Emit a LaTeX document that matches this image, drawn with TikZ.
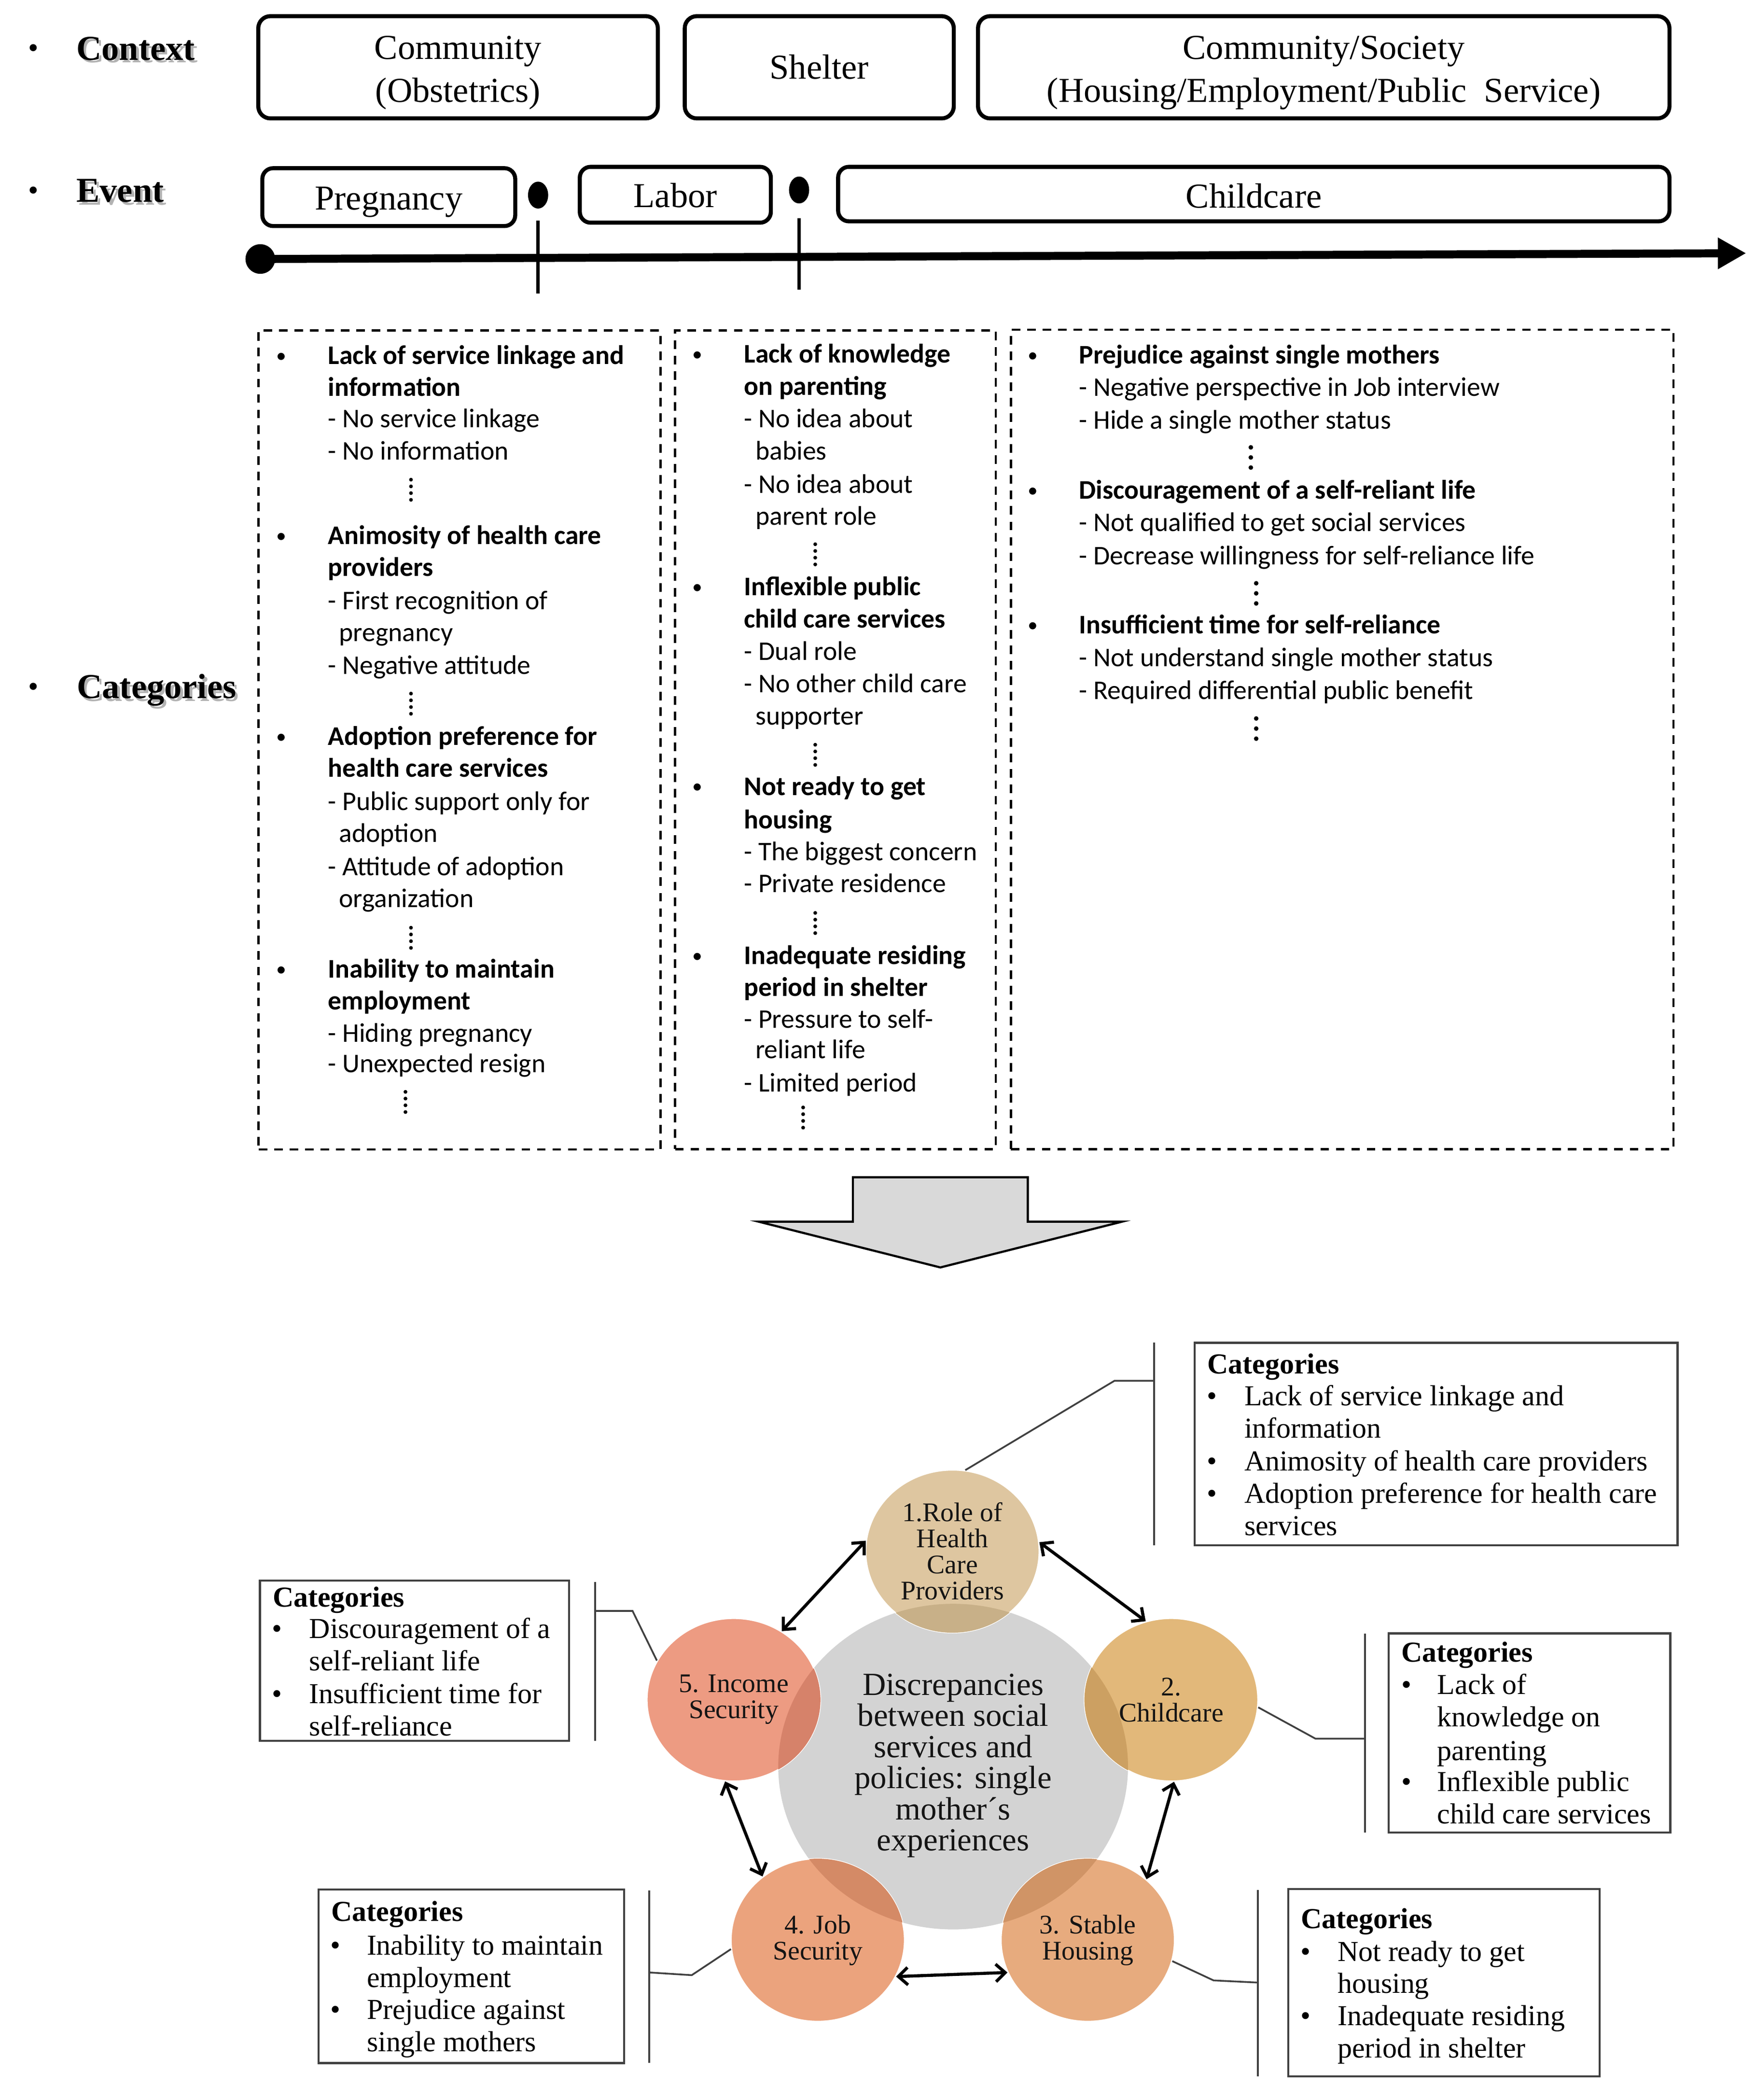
\documentclass[tikz,border=0pt]{standalone}
\usepackage{fontspec}
\setmainfont{Liberation Serif}
\newfontfamily\calib{Carlito}
\usetikzlibrary{arrows.meta,shapes.geometric}
\definecolor{gc}{HTML}{D3D3D3}
\definecolor{cA}{HTML}{DEC6A0}\definecolor{oA}{HTML}{C8B088}
\definecolor{cB}{HTML}{E2B87A}\definecolor{oB}{HTML}{CCA062}
\definecolor{cC}{HTML}{E7AB7E}\definecolor{oC}{HTML}{D09466}
\definecolor{cD}{HTML}{EBA37D}\definecolor{oD}{HTML}{D48A66}
\definecolor{cE}{HTML}{ED9B82}\definecolor{oE}{HTML}{D6826A}
\definecolor{arrgray}{HTML}{D9D9D9}
\definecolor{linegray}{HTML}{404040}
\newcommand\tline[5]{\node[#4] (#1) at (#2,#3) {#5};}
\newcommand\fourdots[2]{\foreach \k in {-7.5,-2.5,2.5,7.5}{\fill (#1,#2+\k) circle (1.4pt);}}
\newcommand\threedots[2]{\foreach \k in {-7.5,0,7.5}{\fill (#1,#2+\k) circle (1.7pt);}}
\tikzset{
  ctxbox/.style={draw, line width=3pt, rounded corners=9pt, inner sep=0pt, minimum height=76pt},
  evbox/.style={draw, line width=3pt, rounded corners=8pt, inner sep=0pt},
  big/.style={font=\fontsize{26}{32}\selectfont, inner sep=0pt, anchor=base},
  lab/.style={font=\fontsize{26}{30}\selectfont\bfseries, inner sep=0pt, anchor=base west},
  labsh/.style={lab, text=black!30},
  labbul/.style={font=\fontsize{22}{26}\selectfont, inner sep=0pt, anchor=base},
  dbox/.style={draw, dash pattern=on 6.4pt off 5.1pt, line width=1.7pt, inner sep=0pt},
  ct/.style={font=\calib\fontsize{20}{24}\selectfont, inner sep=0pt, anchor=base west, yshift=-5.5pt},
  cb/.style={ct, font=\calib\fontsize{20}{24}\selectfont\bfseries},
  cbul/.style={font=\calib\fontsize{15}{18}\selectfont, inner sep=0pt, anchor=base, yshift=-4pt},
  cat/.style={font=\fontsize{21.5}{24}\selectfont, inner sep=0pt, anchor=base west, yshift=-6.5pt},
  catb/.style={cat, font=\fontsize{21.5}{24}\selectfont\bfseries},
  catbul/.style={cat, anchor=base},
  catbox/.style={draw=linegray, line width=1.5pt, inner sep=0pt},
  circ/.style={ellipse, minimum width=129pt, minimum height=121pt, inner sep=0pt, draw=white, line width=1pt},
  circtext/.style={font=\fontsize{20}{19.4}\selectfont, align=center, inner sep=0pt, text=black!92},
  biarrow/.style={line width=2.3pt, {Straight Barb[length=7pt,width=13pt]}-{Straight Barb[length=7pt,width=13pt]}},
  conn/.style={draw=linegray, line width=1.3pt},
}
\begin{document}
\begin{tikzpicture}[x=1pt,y=-1pt]
\useasboundingbox (0,0) rectangle (1305,1560.8);
\fill[white] (0,0) rectangle (1305,1560.8);

% ---------- left labels ----------
\node[labsh] (ctxs) at (58.6,46.6) {Context};
\node[lab] (ctx) at (56.6,44.6) {Context};
\node[labbul] (ctxb) at (25,43) {•};
\node[labsh] (evs) at (58.6,152.2) {Event};
\node[lab] (ev) at (56.6,150.2) {Event};
\node[labbul] (evb) at (25,148.6) {•};
\node[labsh] (cats) at (59,521) {Categories};
\node[lab] (cat) at (57,519) {Categories};
\node[labbul] (catbull) at (25,517.4) {•};

% ---------- context boxes ----------
\node[ctxbox, minimum width=297pt] (k1) at (340.5,50) {};
\node[ctxbox, minimum width=200pt] (k2) at (609,50) {};
\node[ctxbox, minimum width=514pt] (k3) at (984,50) {};
\node[big] (k1a) at (340.5,44) {Community};
\node[big] (k1b) at (340.5,76) {(Obstetrics)};
\node[big] (k2a) at (609,58.8) {Shelter};
\node[big] (k3a) at (984,44) {Community/Society};
\node[big] (k3b) at (984,76) {(Housing/Employment/Public\ \ Service)};

% ---------- event boxes ----------
\node[evbox, minimum width=188pt, minimum height=43pt] (e1) at (289,146.5) {};
\node[evbox, minimum width=142pt, minimum height=41.5pt] (e2) at (502,144.75) {};
\node[evbox, minimum width=618pt, minimum height=40.5pt] (e3) at (932,144.25) {};
\node[big] (e1t) at (289,156) {Pregnancy};
\node[big] (e2t) at (502,154) {Labor};
\node[big] (e3t) at (932,154.4) {Childcare};

% ---------- timeline ----------
\node[ellipse, fill=black, minimum width=15pt, minimum height=20pt, inner sep=0pt] (d1) at (400,145) {};
\node[ellipse, fill=black, minimum width=15pt, minimum height=20pt, inner sep=0pt] (d2) at (594,141.2) {};
\coordinate (t1b) at (400,218);
\coordinate (t2b) at (594,215.4);
\coordinate (t1a) at (400,164);
\coordinate (t2a) at (594,162);
\draw[line width=2.6pt] (t1a) -- (t1b);
\draw[line width=2.6pt] (t2a) -- (t2b);
\node[circle, fill=black, minimum size=22pt, inner sep=0pt] (ts) at (193.5,192.5) {};
\coordinate (te) at (1298,188.2);
\draw[line width=6pt, -{Triangle[length=21pt,width=22pt]}] (ts.center) -- (te);

% ---------- dashed category columns ----------
\node[dbox, minimum width=298.7pt, minimum height=608.7pt] (colA) at (341.55,549.95) {};
\node[dbox, minimum width=238.4pt, minimum height=608.4pt] (colB) at (621,549.8) {};
\node[dbox, minimum width=492.5pt, minimum height=608.9pt] (colC) at (997.75,549.55) {};

% column A
\foreach \yy in {265.3,399.2,548.4,721.4}{\node[cbul] at (209.3,\yy) {•};}
\tline{a1}{243.7}{265.3}{cb}{Lack of service linkage and}
\tline{a2}{243.7}{288.9}{cb}{information}
\tline{a3}{243.7}{312.3}{ct}{- No service linkage}
\tline{a4}{243.7}{336.2}{ct}{- No information}
\fourdots{305.5}{364}
\tline{a5}{243.7}{399.2}{cb}{Animosity of health care}
\tline{a6}{243.7}{422.7}{cb}{providers}
\tline{a7}{243.7}{447.4}{ct}{- First recognition of}
\tline{a8}{251.9}{471.3}{ct}{pregnancy}
\tline{a9}{243.7}{495.6}{ct}{- Negative attitude}
\fourdots{305.5}{523}
\tline{a10}{243.7}{548.4}{cb}{Adoption preference for}
\tline{a11}{243.7}{571.9}{cb}{health care services}
\tline{a12}{243.7}{596.6}{ct}{- Public support only for}
\tline{a13}{251.9}{620.5}{ct}{adoption}
\tline{a14}{243.7}{645.2}{ct}{- Attitude of adoption}
\tline{a15}{251.9}{668.7}{ct}{organization}
\fourdots{305.5}{697}
\tline{a16}{243.7}{721.4}{cb}{Inability to maintain}
\tline{a17}{243.7}{744.9}{cb}{employment}
\tline{a18}{243.7}{768.8}{ct}{- Hiding pregnancy}
\tline{a19}{243.7}{791.5}{ct}{- Unexpected resign}
\fourdots{301.4}{819}

% column B
\foreach \yy in {264.1,437.1,585.5,711.1}{\node[cbul] at (518.3,\yy) {•};}
\tline{b1}{552.9}{264.1}{cb}{Lack of knowledge}
\tline{b2}{552.9}{288}{cb}{on parenting}
\tline{b3}{552.9}{312.3}{ct}{- No idea about}
\tline{b4}{561.4}{336.2}{ct}{babies}
\tline{b5}{552.9}{360.9}{ct}{- No idea about}
\tline{b6}{561.4}{384.8}{ct}{parent role}
\fourdots{606}{412}
\tline{b7}{552.9}{437.1}{cb}{Inflexible public}
\tline{b8}{552.9}{461}{cb}{child care services}
\tline{b9}{552.9}{485.3}{ct}{- Dual role}
\tline{b10}{552.9}{509.2}{ct}{- No other child care}
\tline{b11}{561.4}{533.1}{ct}{supporter}
\fourdots{606}{561}
\tline{b12}{552.9}{585.5}{cb}{Not ready to get}
\tline{b13}{552.9}{610.2}{cb}{housing}
\tline{b14}{552.9}{634.1}{ct}{- The biggest concern}
\tline{b15}{552.9}{657.6}{ct}{- Private residence}
\fourdots{606}{686}
\tline{b16}{552.9}{711.1}{cb}{Inadequate residing}
\tline{b17}{552.9}{735}{cb}{period in shelter}
\tline{b18}{552.9}{758.5}{ct}{- Pressure to self-}
\tline{b19}{561.4}{781.2}{ct}{reliant life}
\tline{b20}{552.9}{805.9}{ct}{- Limited period}
\fourdots{597}{830.6}

% column C
\foreach \yy in {264.8,365.4,465.4}{\node[cbul] at (767.9,\yy) {•};}
\tline{c1}{802}{264.8}{cb}{Prejudice against single mothers}
\tline{c2}{802}{288.8}{ct}{- Negative perspective in Job interview}
\tline{c3}{802}{313.3}{ct}{- Hide a single mother status}
\threedots{929.8}{340}
\tline{c4}{802}{365.4}{cb}{Discouragement of a self-reliant life}
\tline{c5}{802}{389.5}{ct}{- Not qualified to get social services}
\tline{c6}{802}{414}{ct}{- Decrease willingness for self-reliance life}
\threedots{933.8}{441}
\tline{c7}{802}{465.4}{cb}{Insufficient time for self-reliance}
\tline{c8}{802}{489.9}{ct}{- Not understand single mother status}
\tline{c9}{802}{514.2}{ct}{- Required differential public benefit}
\threedots{933.8}{541.5}

% ---------- big down arrow ----------
\draw[fill=arrgray, line width=1.6pt, line join=miter]
  (634,875) -- (764,875) -- (764,908) -- (834,908) -- (699,942) -- (564,908) -- (634,908) -- cycle;

% ---------- circles ----------
\node[ellipse, fill=gc, minimum width=260pt, minimum height=242pt, inner sep=0pt] (g) at (708.5,1313) {};
\node[circ, fill=cA] (c1) at (708,1153) {};
\node[circ, fill=cB] (c2) at (870.6,1263.3) {};
\node[circ, fill=cC] (c3) at (808.6,1441.9) {};
\node[circ, fill=cD] (c4) at (607.9,1441.9) {};
\node[circ, fill=cE] (c5) at (545.4,1263.3) {};
\begin{scope}
  \clip (708.5,1313) ellipse [x radius=130pt, y radius=121pt];
  \fill[oA] (708,1153) ellipse [x radius=64.5pt, y radius=60.5pt];
  \fill[oB] (870.6,1263.3) ellipse [x radius=64.5pt, y radius=60.5pt];
  \fill[oC] (808.6,1441.9) ellipse [x radius=64.5pt, y radius=60.5pt];
  \fill[oD] (607.9,1441.9) ellipse [x radius=64.5pt, y radius=60.5pt];
  \fill[oE] (545.4,1263.3) ellipse [x radius=64.5pt, y radius=60.5pt];
\end{scope}
\node[circtext, font=\fontsize{24}{23.1}\selectfont] (gt) at (708.5,1312.3) {Discrepancies\\between social\\services and\\policies: single\\mother´s\\experiences};
\node[circtext] (c1t) at (708,1153) {1.Role of\\Health\\Care\\Providers};
\node[circtext] (c2t) at (870.6,1263.6) {2.\\Childcare};
\node[circtext] (c3t) at (808.6,1442) {3. Stable\\Housing};
\node[circtext] (c4t) at (607.9,1442) {4. Job\\Security};
\node[circtext] (c5t) at (545.4,1263.1) {5. Income\\Security};

% arrows between circles
\draw[biarrow] (c1.173) -- (c5.55.6);
\draw[biarrow] (c1.6.3) -- (c2.108.1);
\draw[biarrow] (c2.272.2) -- (c3.46.3);
\draw[biarrow] (c3.202.3) -- (c4.335.5);
\draw[biarrow] (c4.131.8) -- (c5.264);

% ---------- connectors and brackets ----------
\coordinate (m1) at (828.5,1026.2); \coordinate (e1c) at (858,1026.2);
\coordinate (r1t) at (858,998); \coordinate (r1b) at (858,1148.5);
\coordinate (m2) at (977.8,1292.2); \coordinate (e2c) at (1014.7,1292.2);
\coordinate (r2t) at (1014.7,1214); \coordinate (r2b) at (1014.7,1362);
\coordinate (m3) at (902.1,1471.9); \coordinate (e3c) at (935,1473.5);
\coordinate (r3t) at (935,1404.6); \coordinate (r3b) at (935,1543.3);
\coordinate (m4) at (514.2,1468); \coordinate (e4c) at (482.6,1466);
\coordinate (r4t) at (482.6,1404.9); \coordinate (r4b) at (482.6,1533.3);
\coordinate (m5) at (470.2,1197.3); \coordinate (e5c) at (442.4,1197.3);
\coordinate (r5t) at (442.4,1175.9); \coordinate (r5b) at (442.4,1293.7);
\draw[conn] (c1.81.6) -- (m1) -- (e1c);
\draw[conn] (c2.355.6) -- (m2) -- (e2c);
\draw[conn] (c3.346.6) -- (m3) -- (e3c);
\draw[conn] (c4.186.1) -- (m4) -- (e4c);
\draw[conn] (c5.153.9) -- (m5) -- (e5c);
\draw[conn] (r1t) -- (r1b);
\draw[conn] (r2t) -- (r2b);
\draw[conn] (r3t) -- (r3b);
\draw[conn] (r4t) -- (r4b);
\draw[conn] (r5t) -- (r5b);

% ---------- category boxes ----------
\node[catbox, minimum width=359pt, minimum height=150.5pt] (bx1) at (1067.5,1073.25) {};
\node[catbox, minimum width=209.3pt, minimum height=148pt] (bx2) at (1136.95,1288) {};
\node[catbox, minimum width=231.6pt, minimum height=139.3pt] (bx3) at (1073.4,1473.65) {};
\node[catbox, minimum width=227pt, minimum height=128.9pt] (bx4) at (350.3,1468.85) {};
\node[catbox, minimum width=229.8pt, minimum height=119.1pt] (bx5) at (308.1,1234.15) {};

% box 1
\tline{q1h}{897.4}{1014.4}{catb}{Categories}
\foreach \yy in {1038.3,1086.6,1110.8}{\node[catbul] at (901,\yy) {•};}
\tline{q1a}{924.8}{1038.3}{cat}{Lack of service linkage and}
\tline{q1b}{924.8}{1062.2}{cat}{information}
\tline{q1c}{924.8}{1086.6}{cat}{Animosity of health care providers}
\tline{q1d}{924.8}{1110.8}{cat}{Adoption preference for health care}
\tline{q1e}{924.8}{1134.7}{cat}{services}
% box 2
\tline{q2h}{1041.4}{1228.5}{catb}{Categories}
\foreach \yy in {1252.6,1324.7}{\node[catbul] at (1045.7,\yy) {•};}
\tline{q2a}{1068.3}{1252.6}{cat}{Lack of}
\tline{q2b}{1068.3}{1276.6}{cat}{knowledge on}
\tline{q2c}{1068.3}{1301.8}{cat}{parenting}
\tline{q2d}{1068.3}{1324.7}{cat}{Inflexible public}
\tline{q2e}{1068.3}{1348.7}{cat}{child care services}
% box 3
\tline{q3h}{966.9}{1426.8}{catb}{Categories}
\foreach \yy in {1451.3,1498.9}{\node[catbul] at (970.5,\yy) {•};}
\tline{q3a}{994.1}{1451.3}{cat}{Not ready to get}
\tline{q3b}{994.1}{1474.8}{cat}{housing}
\tline{q3c}{994.1}{1498.9}{cat}{Inadequate residing}
\tline{q3d}{994.1}{1522.9}{cat}{period in shelter}
% box 4
\tline{q4h}{246.1}{1421.3}{catb}{Categories}
\foreach \yy in {1446.5,1494.3}{\node[catbul] at (249.4,\yy) {•};}
\tline{q4a}{272.5}{1446.5}{cat}{Inability to maintain}
\tline{q4b}{272.5}{1470.4}{cat}{employment}
\tline{q4c}{272.5}{1494.3}{cat}{Prejudice against}
\tline{q4d}{272.5}{1518.2}{cat}{single mothers}
% box 5
\tline{q5h}{202.6}{1187.7}{catb}{Categories}
\foreach \yy in {1211.1,1259.7}{\node[catbul] at (205.8,\yy) {•};}
\tline{q5a}{229.7}{1211.1}{cat}{Discouragement of a}
\tline{q5b}{229.7}{1235}{cat}{self-reliant life}
\tline{q5c}{229.7}{1259.7}{cat}{Insufficient time for}
\tline{q5d}{229.7}{1283.6}{cat}{self-reliance}
\end{tikzpicture}
\end{document}
